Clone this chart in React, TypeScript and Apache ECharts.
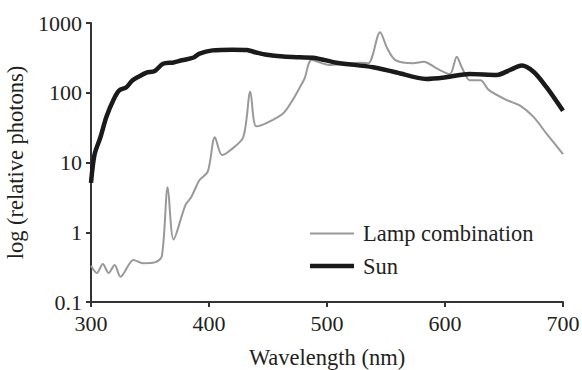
import React, { useEffect, useRef } from "react";
import * as echarts from "echarts";

const sunWavelengths = [300, 303, 308, 313, 319, 324, 330, 335, 341, 347, 354, 361, 370, 377, 387, 392, 403, 420, 432, 440, 449, 463, 477, 488, 508, 539, 559, 584, 601, 621, 644, 655, 665, 675, 686, 700];
const sunValues = [5.1, 13, 23, 45, 79, 108, 120, 150, 172, 195, 205, 260, 272, 292, 320, 365, 405, 415, 410, 378, 350, 330, 322, 318, 270, 232, 195, 158, 167, 186, 180, 212, 245, 200, 120, 55];

const lampWavelengths = [300, 305, 310, 315, 320, 325, 336, 344, 354, 360, 365, 370, 380, 385, 392, 399, 405, 411, 418, 429, 435, 440, 449, 463, 471, 477, 481, 487, 502, 517, 528, 535, 545, 551, 558, 573, 582, 593, 604, 610, 614, 621, 630, 637, 652, 664, 675, 686, 700];
const lampValues = [0.33, 0.26, 0.35, 0.26, 0.34, 0.23, 0.4, 0.36, 0.37, 0.45, 4.4, 0.79, 2.45, 3.2, 5.6, 7.4, 23, 12.8, 15, 23, 103, 33, 37, 51, 79, 120, 160, 294, 250, 265, 270, 265, 736, 434, 294, 265, 279, 223, 185, 329, 236, 151, 151, 110, 79, 65, 45, 26, 13.2];

const xTicks = [300, 400, 500, 600, 700];
const yTickLabels = ["0.1", "1", "10", "100", "1000"];

const seriesNames = ["Lamp combination", "Sun"];
const xTitle = "Wavelength (nm)";
const yTitle = "log (relative photons)";

const FONT = "Liberation Serif";
const TEXT = "#231f20";
const TITLE_SIZE = 22.5;
const TICK_SIZE = 22;

export default function App() {
  const ref = useRef<HTMLDivElement>(null);
  useEffect(() => {
    document.body.style.margin = "0";
    if (!ref.current) return;
    const chart = echarts.init(ref.current, undefined, { renderer: "svg" });
    const lampData = lampWavelengths.map((w, i) => [w, lampValues[i]]);
    const sunData = sunWavelengths.map((w, i) => [w, sunValues[i]]);
    chart.setOption({
      animation: false,
      backgroundColor: "#ffffff",
      textStyle: { fontFamily: FONT },
      grid: { left: 91, right: 19, top: 23, bottom: 68, outerBoundsMode: "none", containLabel: false },
      legend: {
        orient: "vertical",
        left: 310,
        top: 222,
        padding: 0,
        itemWidth: 44,
        itemHeight: 12,
        itemGap: 9.5,
        textStyle: { fontFamily: FONT, fontSize: TITLE_SIZE, color: TEXT, padding: [0, 0, 0, 4] },
        data: [
          { name: seriesNames[0], icon: "path://M0,0H44V2H0Z" },
          { name: seriesNames[1], icon: "path://M0,0H44V4.5H0Z" },
        ],
      },
      xAxis: {
        type: "value",
        min: xTicks[0],
        max: xTicks[xTicks.length - 1],
        interval: 100,
        name: xTitle,
        nameLocation: "middle",
        nameGap: 44,
        nameTextStyle: { fontFamily: FONT, fontSize: TITLE_SIZE, color: TEXT },
        axisLine: { show: true, lineStyle: { color: "#333", width: 2 } },
        axisTick: { show: true, inside: false, length: 5, lineStyle: { color: "#333", width: 2 } },
        axisLabel: { fontFamily: FONT, fontSize: TICK_SIZE, color: TEXT, margin: 10 },
        splitLine: { show: false },
      },
      yAxis: {
        type: "log",
        logBase: 10,
        min: 0.1,
        max: 1000,
        name: yTitle,
        nameLocation: "middle",
        nameGap: 54,
        nameTextStyle: { fontFamily: FONT, fontSize: TITLE_SIZE, color: TEXT },
        axisLine: { show: true, lineStyle: { color: "#333", width: 2 } },
        axisTick: { show: true, inside: false, length: 5, lineStyle: { color: "#333", width: 2 } },
        axisLabel: {
          fontFamily: FONT,
          fontSize: TICK_SIZE,
          color: TEXT,
          margin: 9,
          formatter: (v: number) => {
            const idx = Math.round(Math.log10(v)) + 1;
            return yTickLabels[idx] ?? String(v);
          },
        },
        splitLine: { show: false },
        minorTick: { show: false },
      },
      series: [
        {
          name: seriesNames[0],
          type: "line",
          data: lampData,
          symbol: "none",
          smooth: 0.3,
          lineStyle: { color: "#999999", width: 2 },
          itemStyle: { color: "#999999" },
          z: 2,
        },
        {
          name: seriesNames[1],
          type: "line",
          data: sunData,
          symbol: "none",
          smooth: 0.3,
          lineStyle: { color: "#1a1a1a", width: 4.5 },
          itemStyle: { color: "#1a1a1a" },
          z: 3,
        },
      ],
    });
    return () => chart.dispose();
  }, []);
  return <div ref={ref} style={{ width: 582, height: 370 }} />;
}
